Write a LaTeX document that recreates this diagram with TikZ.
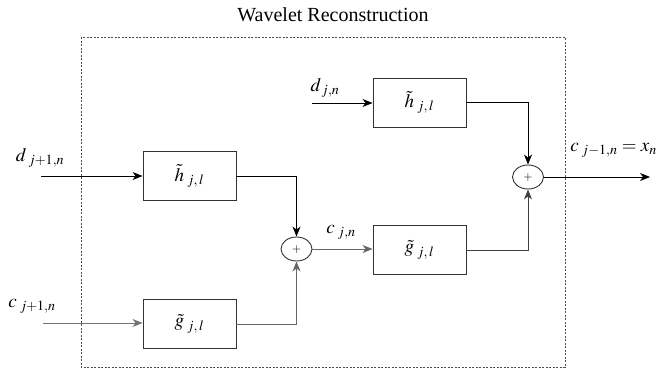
\documentclass[tikz,border=0pt]{standalone}
\usepackage{amsmath,amssymb}
\usepackage{mathptmx}
\usepackage{fontspec}
\setmainfont{Liberation Serif}
\usetikzlibrary{arrows.meta,shapes.geometric}

\tikzset{
  filt/.style={draw=black!80,line width=0.9pt,minimum width=93pt,minimum height=49pt,inner sep=0pt,font=\fontsize{19}{19}\selectfont},
  adder/.style={draw=black!80,ellipse,line width=0.9pt,minimum width=31pt,minimum height=24pt,inner sep=0pt,font=\fontsize{12}{12}\selectfont},
  sig/.style={line width=0.9pt,-{Stealth[length=10pt,width=8pt,inset=3pt]}},
  lbl/.style={font=\fontsize{19}{19}\selectfont,inner sep=0pt}
}

\begin{document}
\begin{tikzpicture}[x=1pt,y=-1pt]
      \useasboundingbox (0,0) rectangle (660,370);
      \node[font=\fontsize{20}{20}\selectfont] (title) at (333,15) {Wavelet Reconstruction};
      \draw[black!70,line width=0.8pt,dash pattern=on 2pt off 1.5pt] (81,37) rectangle (565,367);
      % filters and adders
      \node[filt] (h1) at (189.5,176) {$\tilde{h}_{\;j,\,l}$};
      \node[filt] (g1) at (189.5,324) {$\tilde{g}_{\;j,\,l}$};
      \node[filt] (h2) at (419.5,102.5) {$\tilde{h}_{\;j,\,l}$};
      \node[filt] (g2) at (419.5,250) {$\tilde{g}_{\;j,\,l}$};
      \node[adder] (sum1) at (296.5,249) {$+$};
      \node[adder] (sum2) at (528,177) {$+$};
      \coordinate (din) at (41,176);
      \coordinate (cin) at (43,323);
      \coordinate (dj) at (312,103);
      \coordinate (out) at (650,177);
      % signals
      \draw[sig] (din) -- (h1);
      \draw[sig,black!55] (cin) -- (g1.west |- cin);
      \draw[sig] (dj) -- (h2.west |- dj);
      \draw[sig] (h1.east) -| (sum1.north);
      \draw[sig,black!60] (g1.east) -| (sum1.south);
      \draw[sig,black!60] (sum1.east) -- (g2.west |- sum1.east);
      \draw[sig] (h2.east) -| (sum2.north);
      \draw[sig,black!75] (g2.east) -| (sum2.south);
      \draw[sig] (sum2.east) -- (out);
      \node[lbl] (ldin) at (40,158) {$d_{\;j+1,n}$};
      \node[lbl] (lcin) at (32,306) {$c_{\;j+1,n}$};
      \node[lbl] (ldj) at (325,88) {$d_{\,j,n}$};
      \node[lbl] (lcj) at (341,232) {$c_{\;j,n}$};
      \node[lbl,anchor=east] (lout) at (657,150) {$c_{\;j-1,n} = x_{n}$};
\end{tikzpicture}
\end{document}
